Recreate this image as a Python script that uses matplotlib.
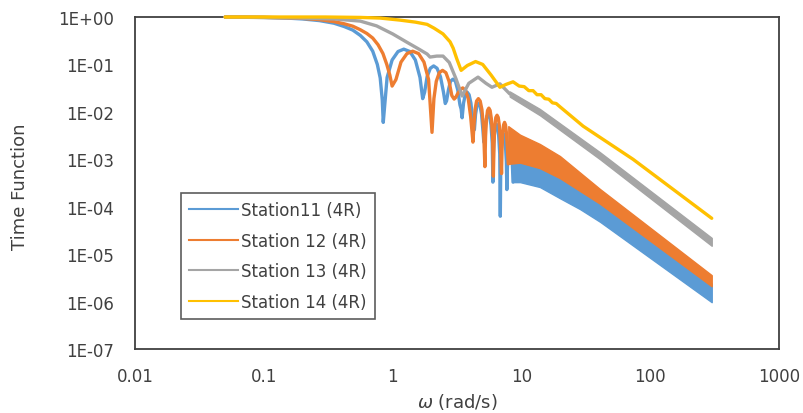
import matplotlib
matplotlib.use("Agg")
import matplotlib.pyplot as plt
from matplotlib.lines import Line2D

# ---- data (omega in rad/s, time function value) ----
# Station 11: resolved lobes, then the dense oscillating tail drawn as a band
w11 = [0.05, 0.1, 0.15, 0.2, 0.27, 0.35, 0.42, 0.49, 0.56, 0.63, 0.7, 0.76, 0.8, 0.83, 0.845,
       0.905, 0.99, 1.1, 1.22, 1.36, 1.5, 1.63, 1.71,
       1.77, 1.85, 1.96, 2.08, 2.21, 2.35, 2.48, 2.56,
       2.62, 2.71, 2.81, 2.94, 3.07, 3.2, 3.33, 3.4,
       3.46, 3.55, 3.66, 3.79, 3.92, 4.05, 4.18, 4.25,
       4.31, 4.4, 4.51, 4.64, 4.77, 4.9, 5.03, 5.1,
       5.17, 5.26, 5.38, 5.52, 5.66, 5.8, 5.93, 6.0,
       6.06, 6.15, 6.26, 6.39, 6.52, 6.65, 6.78, 6.85,
       6.91, 7.0, 7.11, 7.24, 7.37, 7.5, 7.63, 7.7,
       7.77, 7.86, 7.98, 8.12, 8.26, 8.4, 8.53, 8.6]
v11 = [1.0, 0.98, 0.95, 0.91, 0.84, 0.74, 0.63, 0.53, 0.41, 0.30, 0.19, 0.10, 0.052, 0.018, 0.006,
       0.053, 0.124, 0.187, 0.21, 0.187, 0.124, 0.053, 0.019,
       0.026, 0.055, 0.083, 0.093, 0.083, 0.055, 0.026, 0.015,
       0.017, 0.029, 0.044, 0.049, 0.044, 0.029, 0.014, 0.0115,
       0.0075, 0.0153, 0.023, 0.026, 0.023, 0.0153, 0.0065, 0.005,
       0.0042, 0.0089, 0.0134, 0.015, 0.0134, 0.0089, 0.0038, 0.0023,
       0.0024, 0.0053, 0.008, 0.009, 0.008, 0.0053, 0.0022, 0.00033,
       0.0014, 0.0032, 0.0049, 0.0055, 0.0049, 0.0032, 0.0013, 0.000063,
       0.0009, 0.0021, 0.0031, 0.0035, 0.0031, 0.0021, 0.0009, 0.00023,
       0.0006, 0.0014, 0.002, 0.0023, 0.002, 0.0014, 0.0006, 0.00033]
tail11_w = [8.6, 9.75, 13.9, 20.0, 28.5, 40.8, 300]
tail11_hi = [1.5e-3, 9.5e-4, 7.2e-4, 4.5e-4, 2.4e-4, 1.3e-4, 2.4e-6]
tail11_lo = [3.3e-4, 3.3e-4, 2.6e-4, 1.5e-4, 8.9e-5, 4.8e-5, 9.7e-7]

# Station 12
w12 = [0.05, 0.1, 0.15, 0.2, 0.27, 0.35, 0.42, 0.49, 0.56, 0.63, 0.7, 0.77, 0.84, 0.9, 0.95, 0.99,
       1.06, 1.16, 1.29, 1.43, 1.59, 1.75, 1.9, 2.02,
       2.09, 2.18, 2.3, 2.44, 2.59, 2.74, 2.88, 3.0,
       3.08, 3.19, 3.33, 3.5, 3.68, 3.86, 4.03, 4.2,
       4.27, 4.36, 4.48, 4.63, 4.78, 4.93, 5.07, 5.2,
       5.26, 5.35, 5.45, 5.58, 5.71, 5.84, 5.97, 6.05,
       6.12, 6.21, 6.32, 6.46, 6.6, 6.74, 6.88, 7.0,
       7.06, 7.15, 7.26, 7.39, 7.52, 7.65, 7.79, 7.9]
v12 = [1.0, 0.985, 0.96, 0.935, 0.88, 0.8, 0.72, 0.64, 0.54, 0.45, 0.36, 0.26, 0.17, 0.1, 0.06, 0.035,
       0.048, 0.112, 0.169, 0.19, 0.169, 0.112, 0.048, 0.0037,
       0.019, 0.044, 0.067, 0.075, 0.067, 0.044, 0.022, 0.0186,
       0.02, 0.024, 0.029, 0.032, 0.0285, 0.019, 0.008, 0.0023,
       0.0048, 0.0112, 0.0169, 0.019, 0.0169, 0.0112, 0.0048, 0.0007,
       0.003, 0.0071, 0.0107, 0.012, 0.0107, 0.0071, 0.003, 0.00044,
       0.0021, 0.005, 0.0076, 0.0085, 0.0076, 0.005, 0.0021, 0.0005,
       0.0015, 0.0035, 0.0053, 0.006, 0.0053, 0.0035, 0.0015, 0.0008]
tail12_w = [7.9, 9.75, 13.9, 19.9, 40.8, 300]
tail12_hi = [5.0e-3, 3.3e-3, 2.1e-3, 1.17e-3, 2.35e-4, 3.6e-6]
tail12_lo = [8.0e-4, 8.5e-4, 6.5e-4, 4.0e-4, 1.15e-4, 2.1e-6]

# Station 13
w13 = [0.05, 0.19, 0.35, 0.56, 0.75, 1.0, 1.3, 1.6, 1.85, 1.95, 2.2, 2.46, 2.75, 3.1, 3.46,
       3.9, 4.6, 5.3, 5.9, 6.8, 8.1]
v13 = [1.0, 0.95, 0.91, 0.82, 0.65, 0.44, 0.29, 0.21, 0.166, 0.143, 0.15, 0.15, 0.11, 0.05, 0.0216,
       0.04, 0.054, 0.04, 0.033, 0.039, 0.024]
tail13_w = [8.1, 13.9, 40.8, 300]
tail13_hi = [0.027, 0.0115, 1.4e-3, 2.2e-5]
tail13_lo = [0.021, 0.0085, 1.0e-3, 1.5e-5]

# Station 14
w14 = [0.05, 0.3, 0.56, 0.8, 1.14, 1.5, 1.85, 2.1, 2.46, 2.79, 2.95, 3.15, 3.4, 3.8, 4.4, 5.0,
       5.8, 6.8, 7.6, 8.6, 9.6, 10.5, 11.4, 12.3, 13.2, 14.2, 15.2, 16.3, 17.4, 18.6, 19.9,
       30.1, 73.5, 300]
v14 = [1.0, 1.0, 0.98, 0.95, 0.86, 0.78, 0.7, 0.58, 0.44, 0.30, 0.22, 0.13, 0.075, 0.095, 0.115, 0.1,
       0.06, 0.033, 0.038, 0.043, 0.035, 0.034, 0.028, 0.028, 0.023, 0.023, 0.019, 0.0185, 0.0155, 0.015, 0.0128,
       5.0e-3, 1.0e-3, 5.7e-5]

labels = ["Station11 (4R)", "Station 12 (4R)", "Station 13 (4R)", "Station 14 (4R)"]
colors = ["#5B9BD5", "#ED7D31", "#A5A5A5", "#FFC000"]

xticks = [0.01, 0.1, 1, 10, 100, 1000]
xtick_labels = ["0.01", "0.1", "1", "10", "100", "1000"]
yticks = [1e0, 1e-1, 1e-2, 1e-3, 1e-4, 1e-5, 1e-6, 1e-7]
ytick_labels = ["1E+00", "1E-01", "1E-02", "1E-03", "1E-04", "1E-05", "1E-06", "1E-07"]

TXT = "#404040"

fig = plt.figure(figsize=(8.04, 4.14), dpi=100)
ax = fig.add_axes([0.168, 0.1546, 0.801, 0.8019])
ax.set_xscale("log")
ax.set_yscale("log")
ax.set_xlim(0.01, 1000)
ax.set_ylim(1e-7, 1)

series = [(w11, v11, tail11_w, tail11_hi, tail11_lo),
          (w12, v12, tail12_w, tail12_hi, tail12_lo),
          (w13, v13, tail13_w, tail13_hi, tail13_lo),
          (w14, v14, None, None, None)]
for k, (w, v, tw, hi, lo) in enumerate(series):
    z = 3 + k
    ax.plot(w, v, color=colors[k], lw=2.4, zorder=z, clip_on=False,
            solid_joinstyle="round", solid_capstyle="round")
    if tw is not None:
        ax.fill_between(tw, lo, hi, color=colors[k], lw=1.0, edgecolor=colors[k], zorder=z)

ax.set_xticks(xticks)
ax.set_xticklabels(xtick_labels)
ax.set_yticks(yticks)
ax.set_yticklabels(ytick_labels)
ax.minorticks_off()
ax.tick_params(length=0, labelsize=12, labelcolor=TXT)
ax.tick_params(axis="y", pad=15)
ax.tick_params(axis="x", pad=13)
for s in ax.spines.values():
    s.set_color("#404040")
    s.set_linewidth(1.3)

fig.text(20 / 804, 1 - 187 / 414, "Time Function", rotation=90, ha="center", va="center",
         fontsize=13, color=TXT)
fig.text(457 / 804, 1 - 402 / 414, r"$\omega$ (rad/s)", ha="center", va="center",
         fontsize=13, color=TXT)

handles = [Line2D([], [], color=c, lw=1.5) for c in colors]
leg = ax.legend(handles, labels, loc="lower left", bbox_to_anchor=(0.0714, 0.0904),
                borderaxespad=0, fontsize=12, frameon=True, fancybox=False,
                handlelength=2.9, handletextpad=0.2, labelspacing=0.75, borderpad=0.5)
leg.get_frame().set_edgecolor("#333333")
leg.get_frame().set_linewidth(1.2)
for t in leg.get_texts():
    t.set_color(TXT)

fig.savefig("out.png", dpi=100)
